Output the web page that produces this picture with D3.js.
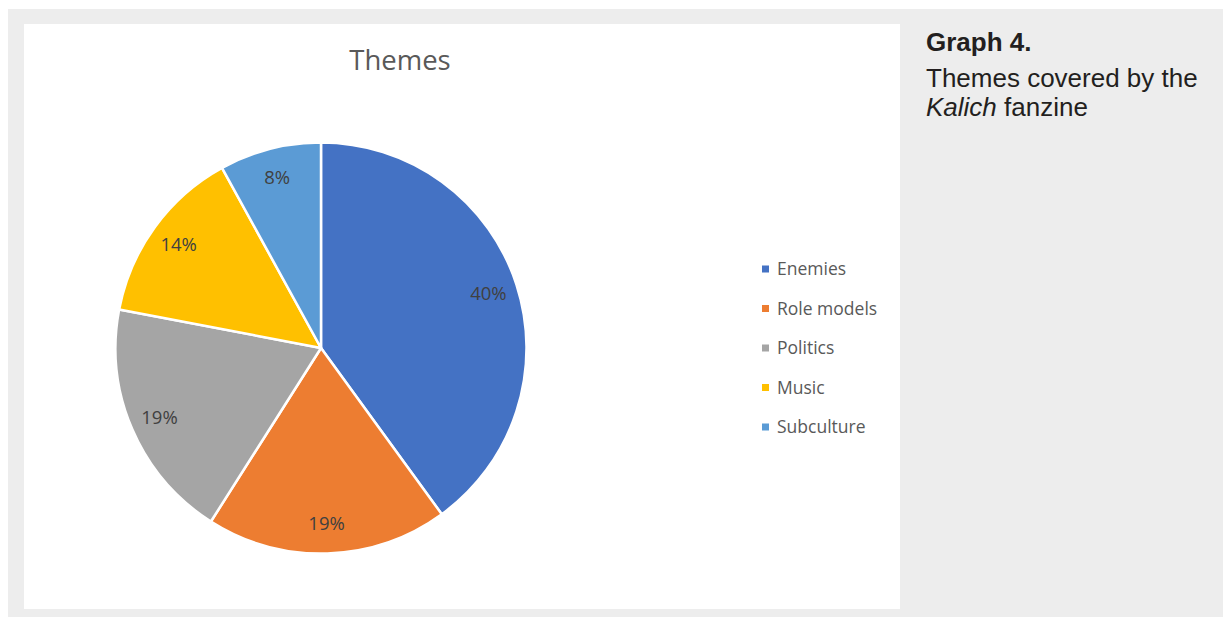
<!DOCTYPE html>
<html>
<head>
<meta charset="utf-8">
<script src="https://cdn.jsdelivr.net/npm/d3@7"></script>
<style>
  html, body { margin: 0; padding: 0; background: #ffffff; }
  svg { display: block; }
</style>
</head>
<body>
<svg id="chart" width="1223" height="617"></svg>
<script>
// Theme shares (percent) in the Kalich fanzine
const categories = ["Enemies", "Role models", "Politics", "Music", "Subculture"];
const shares = [40, 19, 19, 14, 8];
const colors = ["#4472C4", "#ED7D31", "#A5A5A5", "#FFC000", "#5B9BD5"];
const chartTitle = "Themes";
const captionHead = "Graph 4.";
const captionLine1 = "Themes covered by the";
const captionItalic = "Kalich";
const captionRest = " fanzine";

const svg = d3.select("#chart");
const W = 1223, H = 617;

// page background and chart panel
svg.append("rect").attr("x", 8).attr("y", 9).attr("width", W - 8).attr("height", H - 9).attr("fill", "#EDEDED");
svg.append("rect").attr("x", 24).attr("y", 24).attr("width", 876).attr("height", 585).attr("fill", "#ffffff");

// title
svg.append("text")
  .attr("x", 400).attr("y", 70)
  .attr("text-anchor", "middle")
  .attr("font-family", "'Open Sans', sans-serif")
  .attr("font-size", 27.5)
  .attr("fill", "#595959")
  .text(chartTitle);

// pie
const cx = 321, cy = 348, R = 205.5;
const data = categories.map((c, i) => ({ name: c, value: shares[i], color: colors[i] }));
const pie = d3.pie().value(d => d.value).sort(null).startAngle(0).endAngle(2 * Math.PI);
const arcs = pie(data);
const arc = d3.arc().innerRadius(0).outerRadius(R);
const labelArc = d3.arc().innerRadius(176).outerRadius(176);

const g = svg.append("g").attr("transform", `translate(${cx},${cy})`);
g.selectAll("path.slice").data(arcs).join("path")
  .attr("class", "slice")
  .attr("d", arc)
  .attr("fill", d => d.data.color)
  .attr("stroke", "#ffffff")
  .attr("stroke-width", 2.5)
  .attr("stroke-linejoin", "round");

g.selectAll("text.lbl").data(arcs).join("text")
  .attr("class", "lbl")
  .attr("transform", d => `translate(${labelArc.centroid(d)})`)
  .attr("text-anchor", "middle")
  .attr("dy", "0.35em")
  .attr("font-family", "'Open Sans', sans-serif")
  .attr("font-size", 18.5)
  .attr("fill", "#404040")
  .text(d => d3.format(".0f")(d.data.value) + "%");

// legend
const legend = svg.append("g").attr("transform", "translate(762,269)");
const rowY = d3.scalePoint().domain(categories).range([0, 158]);
const rows = legend.selectAll("g.row").data(data).join("g")
  .attr("class", "row")
  .attr("transform", d => `translate(0,${rowY(d.name)})`);
rows.append("rect").attr("x", 0).attr("y", -3.5).attr("width", 7).attr("height", 7).attr("fill", d => d.color);
rows.append("text")
  .attr("x", 15).attr("dy", "0.35em")
  .attr("font-family", "'Open Sans', sans-serif")
  .attr("font-size", 17.5)
  .attr("fill", "#595959")
  .text(d => d.name);

// caption
const cap = svg.append("g").attr("font-family", "'Liberation Sans', Arial, sans-serif").attr("fill", "#231F20");
cap.append("text").attr("x", 926).attr("y", 51).attr("font-size", 26).attr("font-weight", "bold").text(captionHead);
cap.append("text").attr("x", 926).attr("y", 87).attr("font-size", 26).text(captionLine1);
const l3 = cap.append("text").attr("x", 926).attr("y", 116).attr("font-size", 26);
l3.append("tspan").attr("font-style", "italic").text(captionItalic);
l3.append("tspan").text(captionRest);
</script>
</body>
</html>
